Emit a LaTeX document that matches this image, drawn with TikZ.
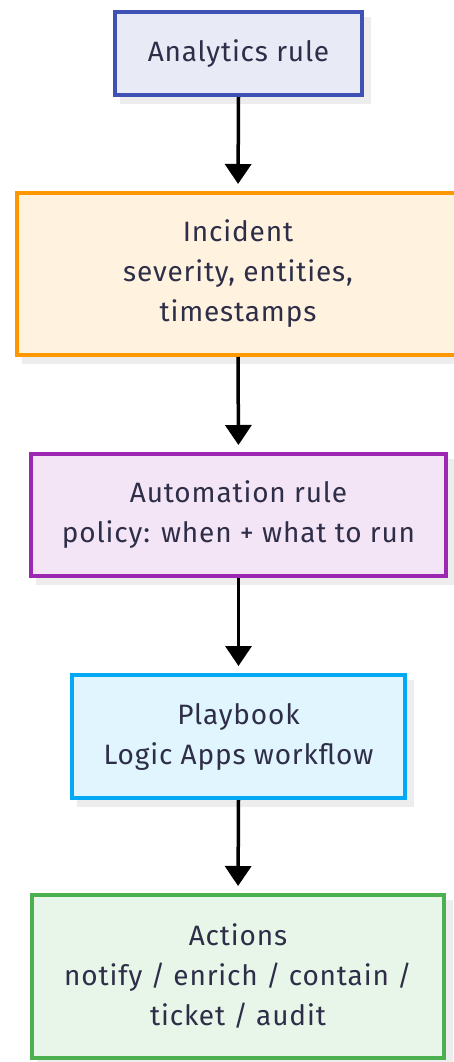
\documentclass[tikz,border=0pt]{standalone}
\usepackage{fontspec}
\setmainfont[LetterSpace=3]{Fira Sans}
\usetikzlibrary{arrows.meta}
\definecolor{txt}{HTML}{2E2E48}
\definecolor{shd}{HTML}{EDEDED}
\definecolor{bA}{HTML}{3F51B5}\definecolor{fA}{HTML}{E8EAF6}
\definecolor{bB}{HTML}{FF9800}\definecolor{fB}{HTML}{FFF3E0}
\definecolor{bC}{HTML}{9C27B0}\definecolor{fC}{HTML}{F3E5F5}
\definecolor{bD}{HTML}{03A9F4}\definecolor{fD}{HTML}{E1F5FE}
\definecolor{bE}{HTML}{4CAF50}\definecolor{fE}{HTML}{E8F5E9}
\tikzset{
  flowbox/.style={rectangle, line width=4pt, inner sep=0pt, text=txt,
    font=\fontsize{28}{40}\selectfont, align=center},
  flowarrow/.style={line width=3.5pt, draw=black, shorten >=7pt,
    -{Triangle[length=20pt,width=26pt]}},
}
\newcommand{\shadowbox}[4]{% x1,y1,x2,y2 of the box
  \fill[shd] ({#1+7},{#2+7}) rectangle ({#3+7},{#4+7});}
\begin{document}
\begin{tikzpicture}[x=1pt,y=-1pt]
\useasboundingbox (0,0) rectangle (454,1062);
\clip (0,0) rectangle (454,1062);
% shadows
\shadowbox{113}{10}{364}{97}
\shadowbox{15}{191}{461}{357}
\shadowbox{29}{452}{448}{578}
\shadowbox{70}{673}{407}{800}
\shadowbox{30}{893}{446}{1060}
% boxes
\node[flowbox, draw=bA, fill=fA, minimum width=247pt, minimum height=83pt] (a) at (238.5,53.5) {Analytics rule};
\node[flowbox, draw=bB, fill=fB, minimum width=442pt, minimum height=162pt] (b) at (238,274) {Incident\\severity, entities,\\timestamps};
\node[flowbox, draw=bC, fill=fC, minimum width=415pt, minimum height=122pt] (c) at (238.5,515) {Automation rule\\policy: when + what to run};
\node[flowbox, draw=bD, fill=fD, minimum width=333pt, minimum height=123pt] (d) at (238.5,736.5) {Playbook\\Logic Apps workflow};
\node[flowbox, draw=bE, fill=fE, minimum width=412pt, minimum height=163pt] (e) at (238,976.5) {Actions\\notify / enrich / contain /\\ticket / audit};
% arrows
\draw[flowarrow] (a.south) -- (b.north);
\draw[flowarrow] (b.south) -- (c.north);
\draw[flowarrow] (c.south) -- (d.north);
\draw[flowarrow] (d.south) -- (e.north);
\end{tikzpicture}
\end{document}
